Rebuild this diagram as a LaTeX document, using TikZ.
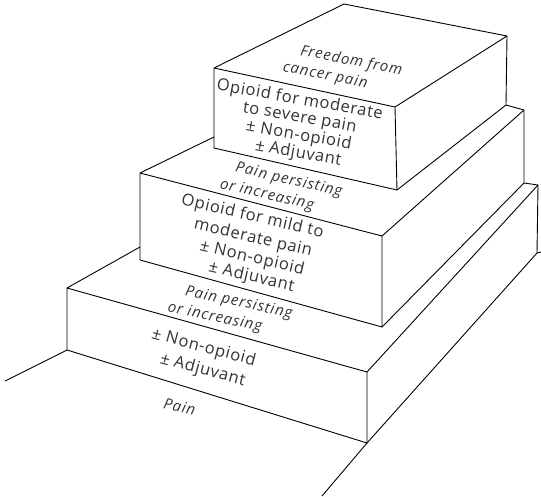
\documentclass[tikz,border=0pt]{standalone}
\usepackage{fontspec}
\setmainfont{Open Sans}
\newfontfamily\stepsans[LetterSpace=4]{Open Sans}
\newfontfamily\stepitalic[LetterSpace=6]{Open Sans Italic}

\begin{document}
\begin{tikzpicture}[x=1pt, y=1pt, line width=0.9pt, line join=round,
  facetext/.style={anchor=base, inner sep=0pt, text=black!80, font=\stepsans\fontsize{16.5}{18}\selectfont},
  toptext/.style={anchor=base, inner sep=0pt, text=black!80, font=\stepitalic\fontsize{15}{17}\selectfont}]
  \useasboundingbox (0,0) rectangle (541,-496);
  % top step
  \coordinate (t3a) at (214,-68);   \coordinate (t3b) at (344,-4);
  \coordinate (t3c) at (507,-36);   \coordinate (t3d) at (395,-107);
  \coordinate (t3e) at (214,-148);  \coordinate (t3f) at (397,-190);
  \coordinate (t3g) at (506,-105);
  % middle step
  \coordinate (m2a) at (140,-173);  \coordinate (m2c) at (524,-110);
  \coordinate (m2d) at (382,-236);  \coordinate (m2e) at (140,-260);
  \coordinate (m2f) at (382,-327);  \coordinate (m2g) at (524,-183);
  \coordinate (m2h) at (214,-137);
  % bottom step
  \coordinate (b1a) at (67,-288);   \coordinate (b1c) at (538,-185);
  \coordinate (b1d) at (367,-372);  \coordinate (b1e) at (67,-350);
  \coordinate (b1f) at (367,-443);  \coordinate (b1g) at (537,-253);
  \coordinate (b1h) at (140,-247);
  % floor
  \coordinate (gl) at (5,-381);  \coordinate (gf) at (322,-496);
  \coordinate (gr) at (541,-252);

  \draw (t3a) -- (t3b) -- (t3c) -- (t3d) -- cycle;
  \draw (t3a) -- (t3e) -- (t3f) -- (t3d);
  \draw (t3c) -- (t3g) -- (t3f);

  \draw (m2h) -- (m2a) -- (m2e) -- (m2f) -- (m2d) -- (m2a);
  \draw (m2d) -- (m2c) -- (m2g) -- (m2f);
  \draw (m2c) -- (t3g);

  \draw (b1h) -- (b1a) -- (b1e) -- (b1f) -- (b1d) -- (b1a);
  \draw (b1d) -- (b1c) -- (b1g) -- (b1f);
  \draw (b1c) -- (m2g);

  \draw (gl) -- (b1e);
  \draw (gf) -- (b1f);
  \draw (gr) -- (b1g);

  % top faces
  \node[toptext, rotate=-11] (freedom1) at (350.5,-65) {Freedom from};
  \node[toptext, rotate=-11] (freedom2) at (324.5,-79.5) {cancer pain};
  \node[toptext, rotate=-13] (persist2a) at (288,-184) {Pain persisting};
  \node[toptext, rotate=-13] (persist2b) at (266,-199) {or increasing};
  \node[toptext, rotate=-12] (persist1a) at (238,-306.5) {Pain persisting};
  \node[toptext, rotate=-12] (persist1b) at (214,-321.5) {or increasing};
  \node[toptext, rotate=-12] (pain) at (178.5,-411.5) {Pain};
  % front faces
  \node[facetext, rotate=-10] (strong1) at (299,-104.5) {Opioid for moderate};
  \node[facetext, rotate=-10] (strong2) at (299,-122) {to severe pain};
  \node[facetext, rotate=-10] (strong3) at (298,-140) {± Non-opioid};
  \node[facetext, rotate=-10] (strong4) at (297.5,-158) {± Adjuvant};
  \node[facetext, rotate=-13] (mild1) at (251.5,-221) {Opioid for mild to};
  \node[facetext, rotate=-13] (mild2) at (252,-242.5) {moderate pain};
  \node[facetext, rotate=-13] (mild3) at (251,-262.5) {± Non-opioid};
  \node[facetext, rotate=-13] (mild4) at (250.5,-281.5) {± Adjuvant};
  \node[facetext, rotate=-15] (base1) at (202.5,-352) {± Non-opioid};
  \node[facetext, rotate=-15] (base2) at (201.5,-374.5) {± Adjuvant};
\end{tikzpicture}
\end{document}
